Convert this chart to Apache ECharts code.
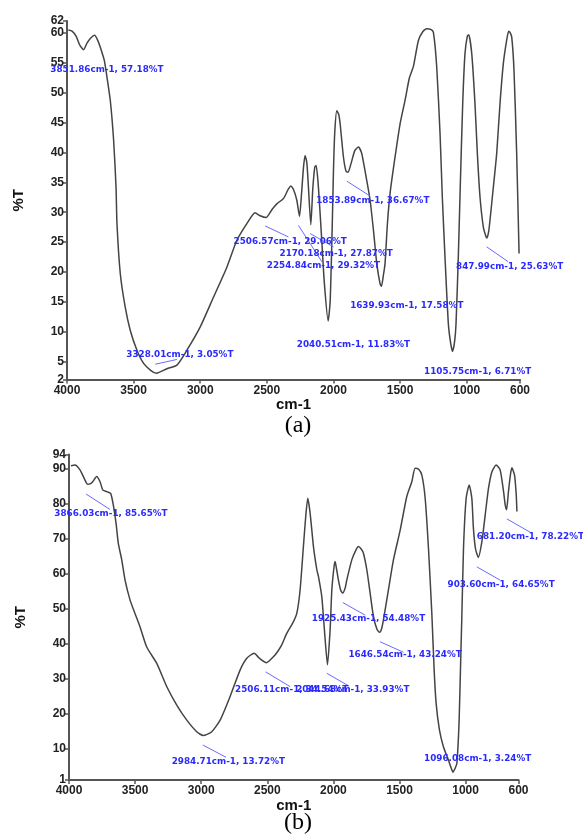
<!DOCTYPE html>
<html>
<head>
<meta charset="utf-8">
<script src="https://cdn.jsdelivr.net/npm/echarts@6/dist/echarts.min.js"></script>
<style>
html,body{margin:0;padding:0;background:#fff;}
#c{width:583px;height:834px;}
</style>
</head>
<body>
<div id="c"></div>
<script>
// ---------- Data: spectrum (a) ----------
var wavenumbersA = [3990,3962,3930,3905,3875,3850,3820,3793,3770,3750,3720,3700,3675,3650,3632,3625,3600,3563,3525,3475,3425,3370,3328,3250,3175,3100,3000,2900,2800,2725,2650,2588,2550,2506,2460,2425,2375,2340,2320,2300,2275,2255,2240,2225,2213,2200,2190,2170,2155,2140,2130,2113,2088,2068,2040,2025,2010,2000,1990,1975,1960,1950,1925,1905,1890,1870,1840,1813,1790,1775,1750,1725,1700,1675,1650,1640,1625,1613,1595,1575,1538,1500,1463,1430,1400,1363,1330,1300,1270,1250,1225,1200,1183,1163,1138,1120,1106,1090,1080,1063,1050,1030,1013,995,985,962,938,920,900,875,855,848,835,825,800,775,750,725,700,685,675,662,645,625,607];
var transmittanceA = [60.5,60.3,59.4,58.0,57.2,58.3,59.2,59.6,58.8,57.6,55.4,52.6,48.7,42,34.2,28.1,19.7,14.1,10.2,6.9,4.7,3.5,3.05,3.8,4.4,6.9,10.8,15.8,20.8,25.3,28.1,29.9,29.4,29.1,30.5,31.4,32.3,33.8,34.4,33.8,32,29.3,33,37.5,39.5,38.3,35,27.9,34,37.6,37.8,34.2,25.3,18,11.8,15,27,37,43.5,47,46.3,44.8,39.2,36.8,36.7,38,40.3,40.9,40.0,38.4,35.3,32,27,21.4,18,17.6,19.5,21.4,28.1,33.2,39.2,44.8,48.7,52.5,54.4,58.7,60.2,60.7,60.6,60.1,54.3,43.1,32.5,22.5,11.4,8,6.7,8.5,11.4,22.5,33,48.2,56.5,59.5,59.7,56.5,48.2,39.8,32.5,27.5,25.9,25.7,26.8,28.7,34.2,39.8,48.2,54.9,58.8,60.3,60.1,59.3,53.7,39.8,23.1];

// ---------- Data: spectrum (b) ----------
var wavenumbersB = [3985,3955,3917,3879,3860,3840,3821,3791,3765,3745,3715,3685,3665,3644,3627,3601,3576,3538,3501,3463,3412,3336,3261,3185,3109,3034,2985,2920,2857,2782,2706,2655,2600,2560,2506,2454,2420,2391,2353,2303,2277,2252,2227,2210,2194,2176,2151,2125,2113,2088,2068,2045,2025,2012,1995,1987,1975,1962,1945,1929,1910,1899,1861,1830,1811,1790,1773,1747,1722,1697,1670,1650,1635,1622,1584,1546,1495,1445,1407,1382,1355,1331,1306,1281,1255,1238,1223,1198,1168,1130,1110,1096,1080,1066,1049,1036,1029,1016,996,973,953,941,925,904,877,852,827,801,769,739,713,700,690,676,660,650,630,617,612];
var transmittanceB = [90.8,91,89.6,86.7,85.5,85.6,86.2,87.7,86.2,83.9,83.4,82.9,79.6,74.3,68.6,63.9,58.1,52.4,48.6,44.8,39,34.3,27.7,22.4,18.1,14.8,13.7,14.8,18.1,24.8,32.4,35.8,37.2,35.8,34.5,36.2,37.8,39.6,42.9,46.2,48.6,55.3,67.7,76,81.5,77.2,67.7,61,59.1,53.4,43.9,33.9,43.9,55.3,62,63.4,61,58.1,55.2,54.4,56,58.1,63.9,66.7,67.7,67,65.8,61,54.3,47.7,44,43.2,44.3,46.7,55.3,63.9,72.4,82,86.2,90.1,89.8,88.1,81.5,67.2,48.1,32.4,22.9,15.3,10.5,6.7,4.5,3.24,4.3,5.8,18.1,37.2,47,67.2,81.5,85.3,81.5,72.9,67,64.6,69.1,76.7,84.3,89.1,91,89.6,83.4,79.5,78.2,83.4,88.5,90.2,88.1,82.4,77.7];

// ---------- Tick labels ----------
var xTicks = [4000,3500,3000,2500,2000,1500,1000,600];
var yTicksA = [2,5,10,15,20,25,30,35,40,45,50,55,60,62];
var yTicksB = [1,10,20,30,40,50,60,70,80,90,94];

// ---------- Peak annotations: text, anchor [wn,%T], leader line [[wn,%T],[wn,%T]] or null ----------
var peakTextA = ["3851.86cm-1, 57.18%T","3328.01cm-1, 3.05%T","2506.57cm-1, 29.06%T","2170.18cm-1, 27.87%T","2254.84cm-1, 29.32%T","1853.89cm-1, 36.67%T","1639.93cm-1, 17.58%T","2040.51cm-1, 11.83%T","1105.75cm-1, 6.71%T","847.99cm-1, 25.63%T"];
var peakAnchorA = [[4125,53.9],[3555,6.07],[2750,25.1],[2405,23.1],[2500,21.1],[2130,32.0],[1875,14.3],[2275,7.74],[1320,3.27],[1080,20.96]];
var peakLeaderA = [null,[[3338,4.56],[3175,5.35]],[[2513,27.7],[2338,25.86]],[[2175,26.43],[2000,24.2]],[[2263,27.8],[2087,21.7]],[[1900,35.2],[1725,32.7]],null,null,null,[[850,24.2],[688,21.7]]];

var peakTextB = ["3866.03cm-1, 85.65%T","2984.71cm-1, 13.72%T","2506.11cm-1, 34.54%T","2044.68cm-1, 33.93%T","1925.43cm-1, 54.48%T","1646.54cm-1, 43.24%T","1096.08cm-1, 3.24%T","903.60cm-1, 64.65%T","681.20cm-1, 78.22%T"];
var peakAnchorB = [[4111,77.2],[3223,6.23],[2744,26.7],[2282,26.7],[2163,47.2],[1886,36.7],[1314,7.2],[1137,56.9],[915,70.5]];
var peakLeaderB = [[[3871,82.7],[3690,78.3]],[[2988,11],[2812,7.5]],[[2513,31.9],[2328,27.7]],[[2050,31.5],[1881,27.8]],[[1929,51.7],[1760,48.1]],[[1647,40.5],[1470,37.5]],null,[[915,61.9],[739,58.1]],[[688,75.6],[512,71.8]]];

function pairs(xs, ys){ var o=[]; for(var i=0;i<xs.length;i++) o.push([xs[i],ys[i]]); return o; }
function plain(v){ return String(v); }

var axisColor = '#555';
function xAxisCfg(gi){
  return {
    type:'value', gridIndex:gi, min:600, max:4000, inverse:true,
    name:'cm-1', nameLocation:'middle', nameGap:14,
    nameTextStyle:{fontFamily:'Liberation Sans', fontSize:15, fontWeight:'bold', color:'#111'},
    axisLine:{show:true, lineStyle:{color:axisColor, width:2}},
    axisTick:{show:true, length:4, inside:false, customValues:xTicks, lineStyle:{color:axisColor,width:1.5}},
    axisLabel:{customValues:xTicks, formatter:plain, margin:5, fontFamily:'Liberation Sans', fontSize:12, fontWeight:'bold', color:'#222'},
    splitLine:{show:false}
  };
}
function yAxisCfg(gi, mn, mx, ticks){
  return {
    type:'value', gridIndex:gi, min:mn, max:mx,
    name:'%T', nameLocation:'middle', nameGap:41, nameRotate:90,
    nameTextStyle:{fontFamily:'Liberation Sans', fontSize:15, fontWeight:'bold', color:'#111'},
    axisLine:{show:true, lineStyle:{color:axisColor, width:2}},
    axisTick:{show:true, length:4, customValues:ticks, lineStyle:{color:axisColor,width:1.5}},
    axisLabel:{customValues:ticks, formatter:plain, margin:3, fontFamily:'Liberation Sans', fontSize:12, fontWeight:'bold', color:'#222'},
    splitLine:{show:false}
  };
}

var chart = echarts.init(document.getElementById('c'), null, {renderer:'canvas'});
chart.setOption({
  animation:false,
  backgroundColor:'#fff',
  grid:[
    {left:67, right:63, top:21, height:358.5},
    {left:69, right:64.5, top:454.5, height:325.5}
  ],
  xAxis:[xAxisCfg(0), xAxisCfg(1)],
  yAxis:[yAxisCfg(0,2,62,yTicksA), yAxisCfg(1,1,94,yTicksB)],
  series:[
    {type:'line', xAxisIndex:0, yAxisIndex:0, data:pairs(wavenumbersA,transmittanceA), showSymbol:false, smooth:0.2, lineStyle:{color:'#444', width:1.5}, clip:false},
    {type:'line', xAxisIndex:1, yAxisIndex:1, data:pairs(wavenumbersB,transmittanceB), showSymbol:false, smooth:0.2, lineStyle:{color:'#444', width:1.5}, clip:false}
  ]
});

function buildAnnotations(gi, texts, anchors, leaders){
  var els = [];
  for (var i=0;i<texts.length;i++){
    if (leaders[i]){
      var p1 = chart.convertToPixel({gridIndex:gi}, leaders[i][0]);
      var p2 = chart.convertToPixel({gridIndex:gi}, leaders[i][1]);
      els.push({type:'line', silent:true, z:10, shape:{x1:p1[0],y1:p1[1],x2:p2[0],y2:p2[1]}, style:{stroke:'#6a6aff', lineWidth:1}});
    }
    var a = chart.convertToPixel({gridIndex:gi}, anchors[i]);
    els.push({type:'text', silent:true, z:11, x:a[0], y:a[1], style:{text:texts[i], fill:'#2a2aff', font:'bold 8.8px "DejaVu Sans"', align:'left', verticalAlign:'middle'}});
  }
  return els;
}

var g = [];
g = g.concat(buildAnnotations(0, peakTextA, peakAnchorA, peakLeaderA));
g = g.concat(buildAnnotations(1, peakTextB, peakAnchorB, peakLeaderB));
g.push({type:'text', x:298, y:426, style:{text:'(a)', fill:'#000', font:'24px "Liberation Serif"', align:'center', verticalAlign:'middle'}});
g.push({type:'text', x:298, y:823, style:{text:'(b)', fill:'#000', font:'24px "Liberation Serif"', align:'center', verticalAlign:'middle'}});
chart.setOption({graphic:g});
</script>
</body>
</html>
